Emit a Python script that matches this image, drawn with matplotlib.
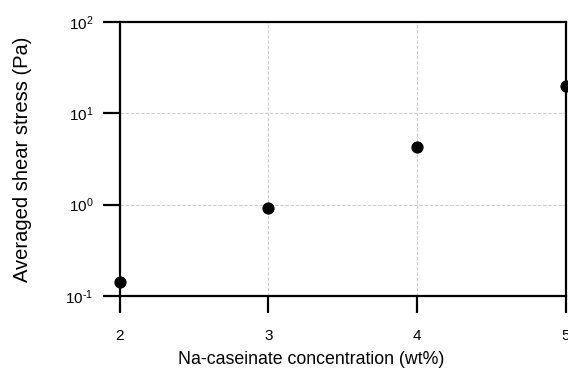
import numpy as np
import matplotlib
matplotlib.use('Agg')
import matplotlib.pyplot as plt
from matplotlib.ticker import LogLocator, NullLocator, FuncFormatter

plt.rcParams['font.family'] = ['Liberation Sans', 'DejaVu Sans']
plt.rcParams['mathtext.fontset'] = 'custom'
plt.rcParams['mathtext.rm'] = 'Liberation Sans'
plt.rcParams['mathtext.it'] = 'Liberation Sans'
plt.rcParams['axes.unicode_minus'] = False

# data
conc = [2, 3, 4, 5]
stress = [0.14, 0.91, 4.3, 20.0]
xticks = [2, 3, 4, 5]

fig = plt.figure(figsize=(5.68, 3.74), dpi=100)
ax = fig.add_axes([0.211, 0.209, 0.785, 0.732])

ax.plot(conc, stress, 'o', color='black', markersize=7.8, clip_on=False, zorder=5)

ax.set_yscale('log')
ax.set_xlim(2, 5)
ax.set_ylim(0.1, 100)
ax.set_xticks(xticks)
ax.yaxis.set_major_locator(LogLocator(base=10, numticks=10))
ax.yaxis.set_minor_locator(NullLocator())
ax.yaxis.set_major_formatter(
    FuncFormatter(lambda v, p: r'$10^{\text{%d}}$' % int(round(np.log10(v)))))

for s in ax.spines.values():
    s.set_linewidth(1.6)
ax.tick_params(axis='both', which='major', direction='out', length=12, width=1.6,
               labelsize=11)
ax.tick_params(axis='y', pad=7)
ax.tick_params(axis='x', pad=12)

ax.grid(True, which='major', linestyle='--', color='#cccccc', linewidth=0.7)
ax.set_axisbelow(True)

ax.set_xlabel('Na-caseinate concentration (wt%)', fontsize=12.8, labelpad=6)
ax.xaxis.set_label_coords(0.43, -0.2)
ax.set_ylabel('Averaged shear stress (Pa)', fontsize=14.5, labelpad=24)

fig.savefig('out.png', dpi=100)
